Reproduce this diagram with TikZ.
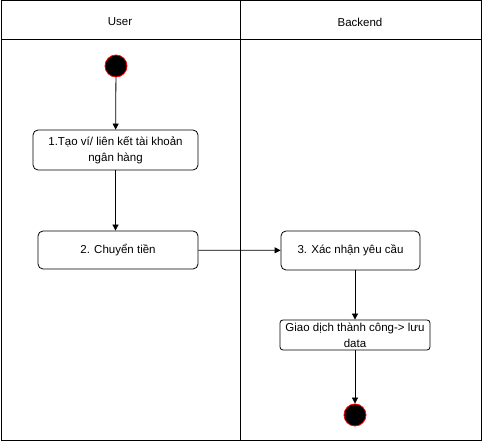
\documentclass[tikz,border=0pt]{standalone}
\usepackage{fontspec}
\setmainfont{Liberation Sans}
\usetikzlibrary{positioning}
\usetikzlibrary{arrows.meta}
\tikzset{
    lane/.style = {draw=black, line width=1pt},
    actbox/.style = {rectangle, rounded corners=5pt, draw=black, align=center, fill=white, line width=0.8pt, inner sep=0pt},
    startnode/.style = {circle, draw=red, fill=black, line width=0.8pt, minimum size=22pt, inner sep=0pt},
    edgen/.style = {-{Triangle[length=6pt,width=6pt]}, line width=0.8pt},
}
\begin{document}
\begin{tikzpicture}[
    x=1pt, y=-1pt,
    font=\fontsize{11.5}{16}\selectfont
]
\useasboundingbox (0,0) rectangle (483,443);
% swimlanes
\draw[lane] (1,1) rectangle (481,441);
\draw[lane] (1,40) -- (481,40);
\draw[lane] (240,1) -- (240,441);
\node at (120,22) (user) {User};
\node at (360,22) (backend) {Backend};
% actions
\node[startnode] at (116,66) (start) {};
\node[actbox, minimum width=165pt, minimum height=40pt] at (115.5,150) (tao) {1.Tạo ví/ liên kết tài khoản\\ngân hàng};
\node[actbox, minimum width=160pt, minimum height=38pt] at (118,250) (chuyen) {2. Chuyển tiền};
\node[actbox, minimum width=139pt, minimum height=39pt] at (350.5,250.5) (xacnhan) {3. Xác nhận yêu cầu};
\node[actbox, rounded corners=3pt, minimum width=150pt, minimum height=30pt] at (355,335) (giaodich) {Giao dịch thành công-> lưu\\data};
\node[startnode] at (355,415) (end) {};
% flow
\draw[edgen] (start) -- (tao);
\draw[edgen] (tao) -- (tao |- chuyen.north);
\draw[edgen] (chuyen) -- (xacnhan);
\draw[edgen] (xacnhan.south -| end) -- (giaodich.north -| end);
\draw[edgen] (giaodich.south -| end) -- (end);
\end{tikzpicture}
\end{document}
